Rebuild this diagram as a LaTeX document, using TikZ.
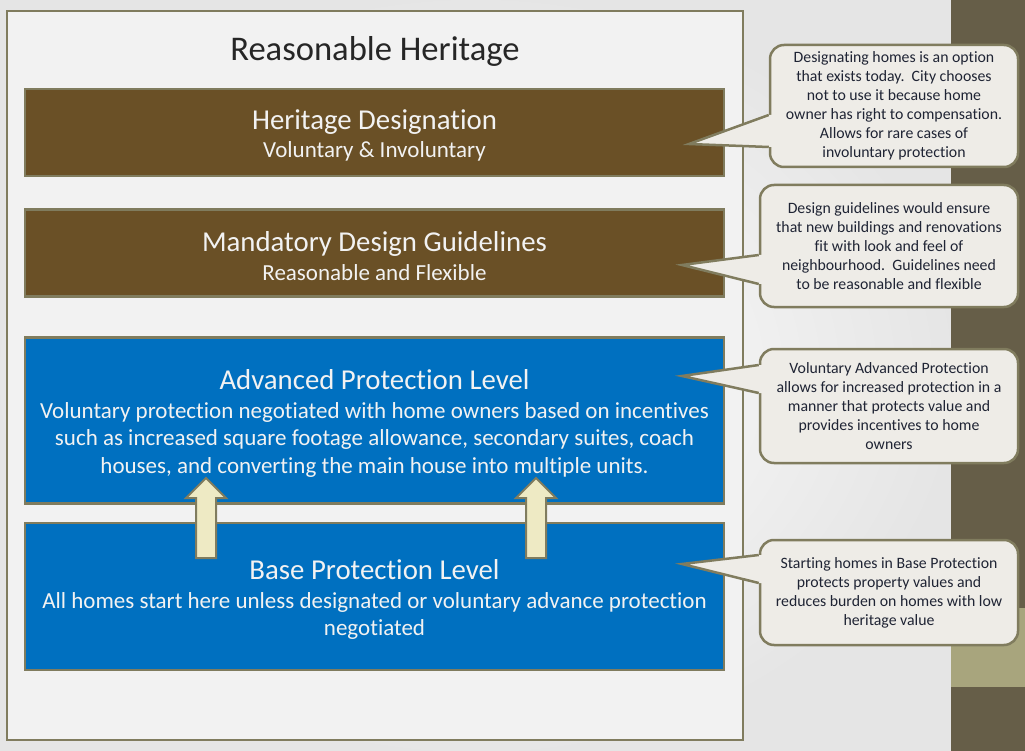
\documentclass[tikz,border=0pt]{standalone}
\usepackage{fontspec}
\setmainfont{Carlito}[Ligatures={NoCommon}]
\usepackage{tikz}
\usetikzlibrary{positioning, calc}
\usepackage{xcolor}
\definecolor{frameolive}{RGB}{128,124,94}
\definecolor{panelgray}{RGB}{242,242,242}
\definecolor{heritbrown}{RGB}{106,80,38}
\definecolor{protblue}{RGB}{0,112,192}
\definecolor{arrowcream}{RGB}{238,234,196}
\definecolor{notefill}{RGB}{238,236,231}
\definecolor{notetext}{RGB}{31,36,52}
\definecolor{stripdark}{RGB}{102,94,72}
\definecolor{stripkhaki}{RGB}{168,165,125}
\newcommand{\headfont}{\fontsize{28.8}{31}\selectfont\rule{0pt}{26pt}}

\begin{document}
\begin{tikzpicture}[x=1pt, y=-1pt,
  levelbox/.style={draw=frameolive, line width=2.5pt, minimum width=699pt,
    text=panelgray, align=center, font=\fontsize{23}{27.5}\selectfont},
  notebox/.style={draw=frameolive, line width=2.5pt, fill=notefill,
    rounded corners=14pt, text=notetext, align=center,
    font=\fontsize{15.8}{19}\selectfont, inner sep=0pt},
  uparrow/.style={draw=frameolive, line width=2pt, fill=arrowcream, line join=miter}]
\useasboundingbox (0,0) rectangle (1025,751);
\fill[white] (0,0) rectangle (1025,751);
\shade[inner color=white, outer color=black!10] (0,0) rectangle (951,751);
\fill[stripdark] (951,0) rectangle (1025,751);
\fill[stripkhaki] (951,608) rectangle (1025,687);

\node[draw=frameolive, line width=2.5pt, fill=panelgray,
  minimum width=736pt, minimum height=729pt] (frame) at (375,375.5) {};
\node[font=\fontsize{34.6}{40}\selectfont, text=black!85] (title) at (375,51) {Reasonable Heritage};

\node[levelbox, fill=heritbrown, minimum height=87pt] (desig) at (374.5,132.5)
  {{\headfont Heritage Designation}\\[1pt]Voluntary \& Involuntary};
\node[levelbox, fill=heritbrown, minimum height=87pt, below=31pt of desig] (guide)
  {{\headfont Mandatory Design Guidelines}\\[1pt]Reasonable and Flexible};
\node[levelbox, fill=protblue, minimum height=166pt, below=38.5pt of guide] (adv)
  {{\headfont Advanced Protection Level}\\[1pt]Voluntary protection negotiated with home owners based on incentives\\
   such as increased square footage allowance, secondary suites, coach\\
   houses, and converting the main house into multiple units.};
\node[levelbox, fill=protblue, minimum height=147pt, below=17pt of adv] (base)
  {{\headfont Base Protection Level}\\[1pt]All homes start here unless designated or voluntary advance protection\\
   negotiated};

\foreach \ax in {206,536}
  \draw[uparrow] (\ax-10,558) -- (\ax-10,498) -- (\ax-20,498) -- (\ax,478)
    -- (\ax+20,498) -- (\ax+10,498) -- (\ax+10,558) -- cycle;

\node[notebox, minimum width=248pt, minimum height=122pt] (n1) at (894,106)
  {Designating homes is an option\\ that exists today.\ \ City chooses\\ not to use it because home\\
   owner has right to compensation.\\ Allows for rare cases of\\ involuntary protection};
\node[notebox, minimum width=258pt, minimum height=122pt] (n2) at (889,246)
  {Design guidelines would ensure\\ that new buildings and renovations\\ fit with look and feel of\\
   neighbourhood.\ \ Guidelines need\\ to be reasonable and flexible};
\node[notebox, minimum width=258pt, minimum height=114pt] (n3) at (889,406)
  {Voluntary Advanced Protection\\ allows for increased protection in a\\ manner that protects value and\\
   provides incentives to home\\ owners};
\node[notebox, minimum width=258pt, minimum height=105pt] (n4) at (889,592.5)
  {Starting homes in Base Protection\\ protects property values and\\ reduces burden on homes with low\\
   heritage value};

\coordinate (tip1) at (689,144);
\coordinate (tip2) at (682,265);
\coordinate (tip3) at (682,376);
\coordinate (tip4) at (682,564);
\foreach \n/\tip/\ya/\yb in {n1/tip1/9/41, n2/tip2/9/38, n3/tip3/-41/-13, n4/tip4/-37.5/-9.5} {
  \fill[notefill] ($(\n.west)+(0,\ya)$) -- (\tip) -- ($(\n.west)+(0,\yb)$)
    -- ($(\n.west)+(5,\yb)$) -- ($(\n.west)+(5,\ya)$) -- cycle;
  \draw[frameolive, line width=2.5pt, line join=miter]
    ($(\n.west)+(0,\ya)$) -- (\tip) -- ($(\n.west)+(0,\yb)$);
}
\end{tikzpicture}
\end{document}
